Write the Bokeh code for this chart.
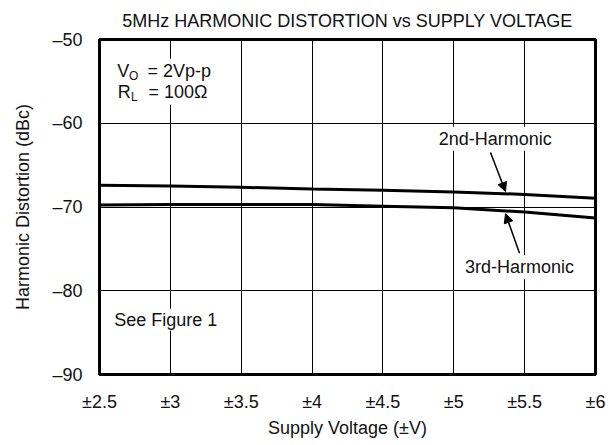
from bokeh.plotting import figure
from bokeh.models import FixedTicker, Label, Arrow, NormalHead, ColumnDataSource, Range1d
from bokeh.embed import file_html
from bokeh.resources import INLINE

# ---- data ----
supply_voltage = [2.5, 3, 3.5, 4, 4.5, 5, 5.5, 6]
hd2_dbc = [-67.4, -67.5, -67.65, -67.85, -68.0, -68.2, -68.5, -68.95]
hd3_dbc = [-69.75, -69.7, -69.7, -69.7, -69.9, -70.1, -70.6, -71.3]

x_ticks = [2.5, 3, 3.5, 4, 4.5, 5, 5.5, 6]
x_tick_labels = ["±2.5", "±3", "±3.5", "±4", "±4.5", "±5", "±5.5", "±6"]
y_ticks = [-90, -80, -70, -60, -50]
y_tick_labels = ["–90", "–80", "–70", "–60", "–50"]

FONT = "Liberation Sans"
FS = "18px"

src = ColumnDataSource(dict(v=supply_voltage, hd2=hd2_dbc, hd3=hd3_dbc))

p = figure(width=611, height=445,
           x_range=Range1d(2.5, 6), y_range=Range1d(-90, -50),
           output_backend="svg", toolbar_location=None,
           min_border_left=99, min_border_right=16,
           min_border_top=39, min_border_bottom=71,
           title="5MHz HARMONIC DISTORTION vs SUPPLY VOLTAGE")

p.title.align = "center"
p.title.text_font = FONT
p.title.text_font_size = FS
p.title.text_font_style = "normal"
p.title.text_color = "#111111"
p.title.standoff = 17

p.xaxis.ticker = FixedTicker(ticks=x_ticks)
p.xaxis.major_label_overrides = dict(zip(x_ticks, x_tick_labels))
p.yaxis.ticker = FixedTicker(ticks=y_ticks)
p.yaxis.major_label_overrides = dict(zip(y_ticks, y_tick_labels))

p.xaxis.axis_label = "Supply Voltage (±V)"
p.yaxis.axis_label = "Harmonic Distortion (dBc)"

for ax in (p.xaxis, p.yaxis):
    ax.axis_line_color = None
    ax.major_tick_line_color = None
    ax.minor_tick_line_color = None
    ax.major_tick_out = 0
    ax.major_tick_in = 0
    ax.major_label_text_font = FONT
    ax.major_label_text_font_size = FS
    ax.major_label_text_color = "#111111"
    ax.axis_label_text_font = FONT
    ax.axis_label_text_font_size = FS
    ax.axis_label_text_font_style = "normal"
    ax.axis_label_text_color = "#111111"

p.xaxis.major_label_standoff = 17
p.xaxis.axis_label_standoff = 3
p.yaxis.major_label_standoff = 17
p.yaxis.axis_label_standoff = 16

p.xgrid.grid_line_color = "black"
p.ygrid.grid_line_color = "black"
p.xgrid.grid_line_width = 1
p.ygrid.grid_line_width = 1

p.outline_line_color = "black"
p.outline_line_width = 3
p.background_fill_color = "white"
p.border_fill_color = "white"

p.line(x="v", y="hd2", source=src, line_width=3, line_color="black")
p.line(x="v", y="hd3", source=src, line_width=3, line_color="black")

DY = 0.7  # baseline correction

def lab(x, y, text, size=FS, align="left", pad=3, bg="white"):
    l = Label(x=x, y=y + DY, text=text, text_font=FONT, text_font_size=size,
              text_color="#111111", text_align=align, text_baseline="alphabetic",
              background_fill_color=bg, padding=pad)
    p.add_layout(l)

# condition notes (backgrounds first, then the small pieces on top)
lab(2.825, -56.93, "= 100Ω", pad=3)
lab(2.825, -54.42, "= 2Vp-p", pad=2)
lab(2.625, -54.42, "V", bg=None, pad=0)
lab(2.708, -55.01, "O", size="12px", pad=0, bg=None)
lab(2.629, -56.93, "R", bg=None, pad=0)
lab(2.722, -57.52, "L", size="12px", pad=0, bg=None)
lab(2.597, -84.15, "See Figure 1", pad=1)

# series labels
lab(5.293, -62.54, "2nd-Harmonic", align="center", pad=2)
lab(5.464, -77.9, "3rd-Harmonic", align="center", pad=2)

for (x0, y0, x1, y1) in [(5.259, -63.49, 5.365, -68.15), (5.464, -75.52, 5.365, -70.81)]:
    p.add_layout(Arrow(end=NormalHead(size=9, fill_color="black", line_color="black"),
                       x_start=x0, y_start=y0, x_end=x1, y_end=y1,
                       line_width=1.5, line_color="black"))

open("out.html", "w").write(file_html(p, INLINE))
